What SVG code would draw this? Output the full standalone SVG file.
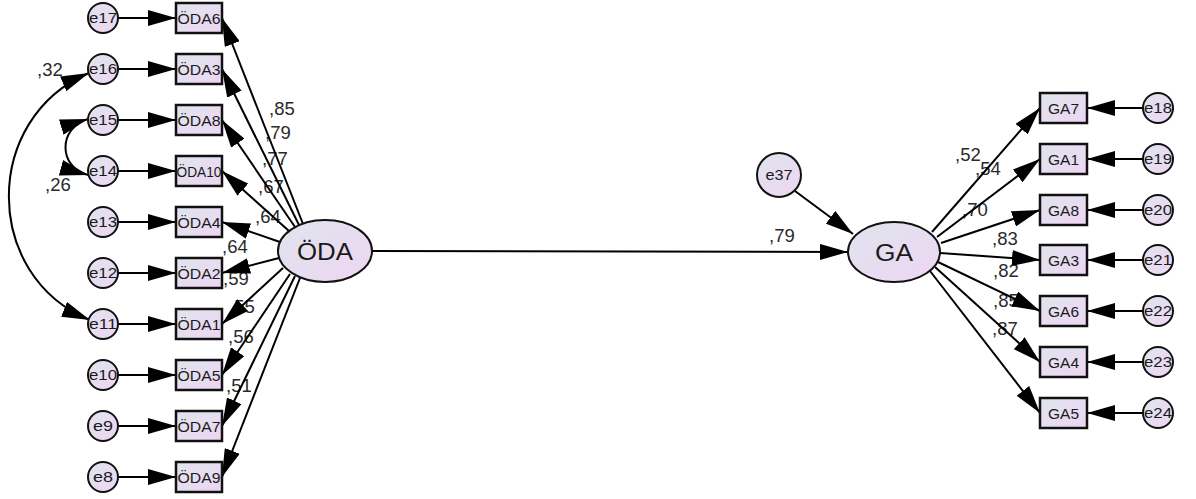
<svg xmlns="http://www.w3.org/2000/svg" width="1196" height="499" viewBox="0 0 1196 499">
  <defs>
    <linearGradient id="fillGrad" x1="0" y1="0" x2="1" y2="1">
      <stop offset="0" stop-color="#dfe5ee"/>
      <stop offset="1" stop-color="#eed5f2"/>
    </linearGradient>
    <marker id="ah" markerUnits="userSpaceOnUse" viewBox="0 0 28 16" markerWidth="28" markerHeight="16" refX="28" refY="8" orient="auto-start-reverse">
      <path d="M0,0 L28,8 L0,16 Z" fill="#000"/>
    </marker>
    <style>
      .box { fill: url(#fillGrad); stroke: #111; stroke-width: 2.5; }
      .err { fill: url(#fillGrad); stroke: #111; stroke-width: 2; }
      .lat { fill: url(#fillGrad); stroke: #111; stroke-width: 2; }
      .lbl { font-family: "Liberation Sans", Arial, sans-serif; fill: #1a1a1a; text-anchor: middle; }
      .num { font-family: "Liberation Sans", Arial, sans-serif; font-size: 18.5px; fill: #2a2a2a; }
      .path { stroke: #000; stroke-width: 2; fill: none; marker-end: url(#ah); }
      .cov { stroke: #000; stroke-width: 2; fill: none; marker-start: url(#ah); marker-end: url(#ah); }
    </style>
  </defs>

  <!-- coefficient labels -->
  <g id="labels" class="num">
    <text x="269" y="115">,85</text>
    <text x="265" y="139">,79</text>
    <text x="262" y="165">,77</text>
    <text x="258" y="193">,67</text>
    <text x="255" y="223">,64</text>
    <text x="222" y="253">,64</text>
    <text x="223" y="285">,59</text>
    <text x="229" y="313">,55</text>
    <text x="228" y="343">,56</text>
    <text x="226" y="392">,51</text>
    <text x="769" y="242">,79</text>
    <text x="955" y="161">,52</text>
    <text x="975" y="175">,54</text>
    <text x="962" y="216">,70</text>
    <text x="992" y="245">,83</text>
    <text x="993" y="277">,82</text>
    <text x="993" y="307">,85</text>
    <text x="992" y="335">,87</text>
    <text x="37" y="76">,32</text>
    <text x="45" y="191">,26</text>
  </g>

  <!-- connectors -->
  <g id="connectors">
    <!-- error terms to ÖDA indicators -->
    <line class="path" x1="118" y1="18" x2="176" y2="18"/>
    <line class="path" x1="118" y1="69" x2="176" y2="69"/>
    <line class="path" x1="118" y1="120" x2="176" y2="120"/>
    <line class="path" x1="118" y1="171" x2="176" y2="171"/>
    <line class="path" x1="118" y1="222" x2="176" y2="222"/>
    <line class="path" x1="118" y1="273" x2="176" y2="273"/>
    <line class="path" x1="118" y1="324" x2="176" y2="324"/>
    <line class="path" x1="118" y1="375" x2="176" y2="375"/>
    <line class="path" x1="118" y1="426" x2="176" y2="426"/>
    <line class="path" x1="118" y1="477" x2="176" y2="477"/>

    <!-- ÖDA loadings -->
    <line class="path" x1="303" y1="224" x2="222" y2="18"/>
    <line class="path" x1="299" y1="225" x2="222" y2="69"/>
    <line class="path" x1="295" y1="227" x2="222" y2="120"/>
    <line class="path" x1="289" y1="231" x2="222" y2="171"/>
    <line class="path" x1="280" y1="242" x2="222" y2="222"/>
    <line class="path" x1="279" y1="258" x2="222" y2="273"/>
    <line class="path" x1="283" y1="268" x2="222" y2="324"/>
    <line class="path" x1="290" y1="274" x2="222" y2="375"/>
    <line class="path" x1="295" y1="276" x2="222" y2="426"/>
    <line class="path" x1="300" y1="278" x2="222" y2="477"/>

    <!-- error covariances -->
    <path class="cov" d="M89,73 C-18,118 -18,276 90,320"/>
    <path class="cov" d="M88,119 C58,128 58,167 88,175"/>

    <!-- structural path and disturbance -->
    <line class="path" x1="372" y1="251" x2="848" y2="252"/>
    <line class="path" x1="795" y1="191" x2="853" y2="234"/>

    <!-- GA loadings -->
    <line class="path" x1="932" y1="232" x2="1040" y2="108"/>
    <line class="path" x1="937" y1="237" x2="1040" y2="159"/>
    <line class="path" x1="941" y1="243" x2="1040" y2="210"/>
    <line class="path" x1="940" y1="253" x2="1040" y2="260"/>
    <line class="path" x1="938" y1="262" x2="1040" y2="311"/>
    <line class="path" x1="935" y1="267" x2="1040" y2="362"/>
    <line class="path" x1="930" y1="271" x2="1040" y2="413"/>

    <!-- error terms to GA indicators -->
    <line class="path" x1="1143" y1="108" x2="1087" y2="108"/>
    <line class="path" x1="1143" y1="159" x2="1087" y2="159"/>
    <line class="path" x1="1143" y1="210" x2="1087" y2="210"/>
    <line class="path" x1="1143" y1="260" x2="1087" y2="260"/>
    <line class="path" x1="1143" y1="311" x2="1087" y2="311"/>
    <line class="path" x1="1143" y1="362" x2="1087" y2="362"/>
    <line class="path" x1="1143" y1="413" x2="1087" y2="413"/>
  </g>

  <!-- ÖDA error terms -->
  <g id="e17"><circle class="err" cx="103" cy="18" r="15"/><text class="lbl" x="103" y="23" font-size="14.5" textLength="28" lengthAdjust="spacingAndGlyphs">e17</text></g>
  <g id="e16"><circle class="err" cx="103" cy="69" r="15"/><text class="lbl" x="103" y="74" font-size="14.5" textLength="28" lengthAdjust="spacingAndGlyphs">e16</text></g>
  <g id="e15"><circle class="err" cx="103" cy="120" r="15"/><text class="lbl" x="103" y="125" font-size="14.5" textLength="28" lengthAdjust="spacingAndGlyphs">e15</text></g>
  <g id="e14"><circle class="err" cx="103" cy="171" r="15"/><text class="lbl" x="103" y="176" font-size="14.5" textLength="28" lengthAdjust="spacingAndGlyphs">e14</text></g>
  <g id="e13"><circle class="err" cx="103" cy="222" r="15"/><text class="lbl" x="103" y="227" font-size="14.5" textLength="28" lengthAdjust="spacingAndGlyphs">e13</text></g>
  <g id="e12"><circle class="err" cx="103" cy="273" r="15"/><text class="lbl" x="103" y="278" font-size="14.5" textLength="28" lengthAdjust="spacingAndGlyphs">e12</text></g>
  <g id="e11"><circle class="err" cx="103" cy="324" r="15"/><text class="lbl" x="103" y="329" font-size="14.5" textLength="28" lengthAdjust="spacingAndGlyphs">e11</text></g>
  <g id="e10"><circle class="err" cx="103" cy="375" r="15"/><text class="lbl" x="103" y="380" font-size="14.5" textLength="28" lengthAdjust="spacingAndGlyphs">e10</text></g>
  <g id="e9"><circle class="err" cx="103" cy="426" r="15"/><text class="lbl" x="103" y="431" font-size="14.5" textLength="20" lengthAdjust="spacingAndGlyphs">e9</text></g>
  <g id="e8"><circle class="err" cx="103" cy="477" r="15"/><text class="lbl" x="103" y="482" font-size="14.5" textLength="20" lengthAdjust="spacingAndGlyphs">e8</text></g>

  <!-- ÖDA indicators -->
  <g id="ODA6"><rect class="box" x="176" y="3" width="46" height="30"/><text class="lbl" x="199" y="23.5" font-size="15" textLength="43" lengthAdjust="spacingAndGlyphs">ÖDA6</text></g>
  <g id="ODA3"><rect class="box" x="176" y="54" width="46" height="30"/><text class="lbl" x="199" y="74.5" font-size="15" textLength="43" lengthAdjust="spacingAndGlyphs">ÖDA3</text></g>
  <g id="ODA8"><rect class="box" x="176" y="105" width="46" height="30"/><text class="lbl" x="199" y="125.5" font-size="15" textLength="43" lengthAdjust="spacingAndGlyphs">ÖDA8</text></g>
  <g id="ODA10"><rect class="box" x="176" y="156" width="46" height="30"/><text class="lbl" x="199" y="176.5" font-size="15" textLength="45" lengthAdjust="spacingAndGlyphs">ÖDA10</text></g>
  <g id="ODA4"><rect class="box" x="176" y="207" width="46" height="30"/><text class="lbl" x="199" y="227.5" font-size="15" textLength="43" lengthAdjust="spacingAndGlyphs">ÖDA4</text></g>
  <g id="ODA2"><rect class="box" x="176" y="258" width="46" height="30"/><text class="lbl" x="199" y="278.5" font-size="15" textLength="43" lengthAdjust="spacingAndGlyphs">ÖDA2</text></g>
  <g id="ODA1"><rect class="box" x="176" y="309" width="46" height="30"/><text class="lbl" x="199" y="329.5" font-size="15" textLength="43" lengthAdjust="spacingAndGlyphs">ÖDA1</text></g>
  <g id="ODA5"><rect class="box" x="176" y="360" width="46" height="30"/><text class="lbl" x="199" y="380.5" font-size="15" textLength="43" lengthAdjust="spacingAndGlyphs">ÖDA5</text></g>
  <g id="ODA7"><rect class="box" x="176" y="411" width="46" height="30"/><text class="lbl" x="199" y="431.5" font-size="15" textLength="43" lengthAdjust="spacingAndGlyphs">ÖDA7</text></g>
  <g id="ODA9"><rect class="box" x="176" y="462" width="46" height="30"/><text class="lbl" x="199" y="482.5" font-size="15" textLength="43" lengthAdjust="spacingAndGlyphs">ÖDA9</text></g>

  <!-- latent variables -->
  <g id="ODA"><ellipse class="lat" cx="325" cy="251" rx="47" ry="31"/><text class="lbl" x="325" y="259.5" font-size="23" textLength="56" lengthAdjust="spacingAndGlyphs">ÖDA</text></g>
  <g id="GA"><ellipse class="lat" cx="894" cy="252" rx="46" ry="30"/><text class="lbl" x="894" y="260.5" font-size="23" textLength="38" lengthAdjust="spacingAndGlyphs">GA</text></g>
  <g id="e37"><circle class="err" cx="779" cy="175" r="22"/><text class="lbl" x="779" y="180" font-size="14" textLength="27" lengthAdjust="spacingAndGlyphs">e37</text></g>

  <!-- GA indicators -->
  <g id="GA7"><rect class="box" x="1040" y="93" width="47" height="30"/><text class="lbl" x="1063.5" y="113.5" font-size="15" textLength="31" lengthAdjust="spacingAndGlyphs">GA7</text></g>
  <g id="GA1"><rect class="box" x="1040" y="144" width="47" height="30"/><text class="lbl" x="1063.5" y="164.5" font-size="15" textLength="31" lengthAdjust="spacingAndGlyphs">GA1</text></g>
  <g id="GA8"><rect class="box" x="1040" y="195" width="47" height="30"/><text class="lbl" x="1063.5" y="215.5" font-size="15" textLength="31" lengthAdjust="spacingAndGlyphs">GA8</text></g>
  <g id="GA3"><rect class="box" x="1040" y="245" width="47" height="30"/><text class="lbl" x="1063.5" y="265.5" font-size="15" textLength="31" lengthAdjust="spacingAndGlyphs">GA3</text></g>
  <g id="GA6"><rect class="box" x="1040" y="296" width="47" height="30"/><text class="lbl" x="1063.5" y="316.5" font-size="15" textLength="31" lengthAdjust="spacingAndGlyphs">GA6</text></g>
  <g id="GA4"><rect class="box" x="1040" y="347" width="47" height="30"/><text class="lbl" x="1063.5" y="367.5" font-size="15" textLength="31" lengthAdjust="spacingAndGlyphs">GA4</text></g>
  <g id="GA5"><rect class="box" x="1040" y="398" width="47" height="30"/><text class="lbl" x="1063.5" y="418.5" font-size="15" textLength="31" lengthAdjust="spacingAndGlyphs">GA5</text></g>

  <!-- GA error terms -->
  <g id="e18"><circle class="err" cx="1158" cy="108" r="15"/><text class="lbl" x="1158" y="113" font-size="14.5" textLength="28" lengthAdjust="spacingAndGlyphs">e18</text></g>
  <g id="e19"><circle class="err" cx="1158" cy="159" r="15"/><text class="lbl" x="1158" y="164" font-size="14.5" textLength="28" lengthAdjust="spacingAndGlyphs">e19</text></g>
  <g id="e20"><circle class="err" cx="1158" cy="210" r="15"/><text class="lbl" x="1158" y="215" font-size="14.5" textLength="28" lengthAdjust="spacingAndGlyphs">e20</text></g>
  <g id="e21"><circle class="err" cx="1158" cy="260" r="15"/><text class="lbl" x="1158" y="265" font-size="14.5" textLength="28" lengthAdjust="spacingAndGlyphs">e21</text></g>
  <g id="e22"><circle class="err" cx="1158" cy="311" r="15"/><text class="lbl" x="1158" y="316" font-size="14.5" textLength="28" lengthAdjust="spacingAndGlyphs">e22</text></g>
  <g id="e23"><circle class="err" cx="1158" cy="362" r="15"/><text class="lbl" x="1158" y="367" font-size="14.5" textLength="28" lengthAdjust="spacingAndGlyphs">e23</text></g>
  <g id="e24"><circle class="err" cx="1158" cy="413" r="15"/><text class="lbl" x="1158" y="418" font-size="14.5" textLength="28" lengthAdjust="spacingAndGlyphs">e24</text></g>
</svg>
